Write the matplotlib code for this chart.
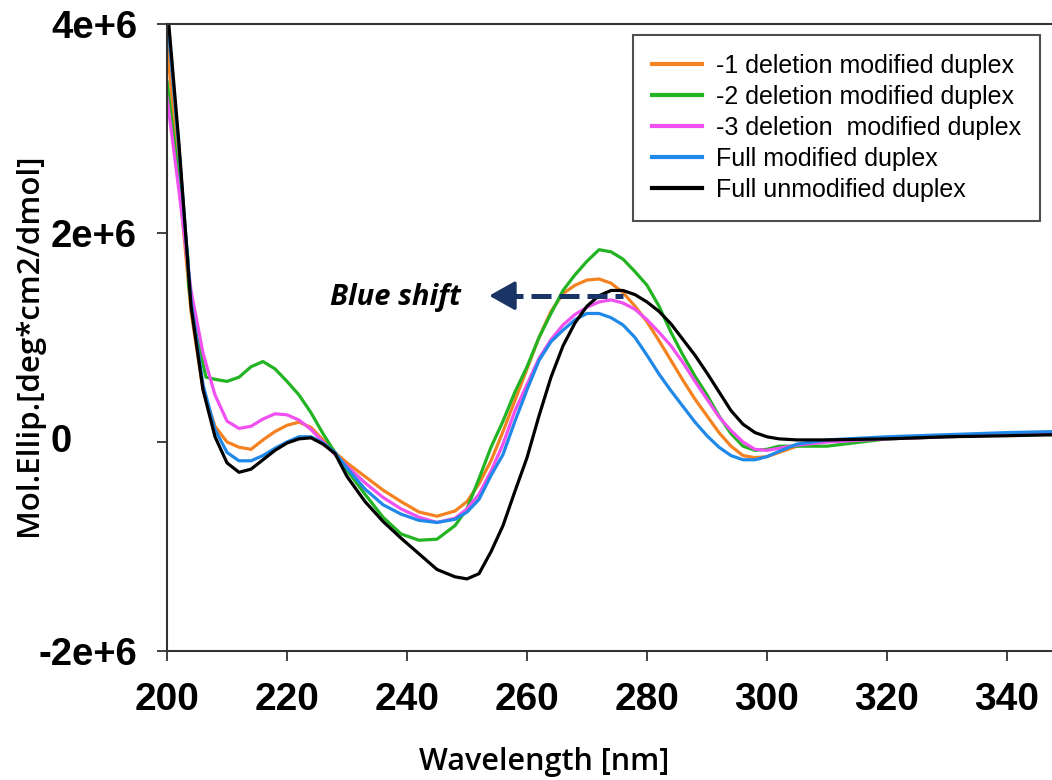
import matplotlib
matplotlib.use("Agg")
import matplotlib.pyplot as plt
from matplotlib.transforms import blended_transform_factory

# ---------------- data (units of 1e6 deg*cm2/dmol) ----------------
wl = [200, 202, 204, 206, 208, 210, 212, 214, 216, 218, 220, 222, 224, 226, 228,
      230, 233, 236, 239, 242, 245, 248, 250, 252, 254, 256, 258, 260, 262, 264,
      266, 268, 270, 272, 274, 276, 278, 280, 282, 284, 286, 288, 290, 292, 294,
      296, 298, 300, 302, 305, 310, 320, 330, 340, 348]

black = [4.2, 2.85, 1.3, 0.5, 0.05, -0.2, -0.29, -0.26, -0.17, -0.08, -0.01, 0.03, 0.04, -0.02, -0.11,
         -0.33, -0.57, -0.76, -0.92, -1.07, -1.22, -1.29, -1.31, -1.26, -1.05, -0.8, -0.47, -0.15, 0.25, 0.62,
         0.92, 1.14, 1.3, 1.4, 1.45, 1.45, 1.41, 1.34, 1.25, 1.13, 0.98, 0.83, 0.66, 0.48, 0.3,
         0.17, 0.09, 0.05, 0.03, 0.02, 0.02, 0.03, 0.05, 0.06, 0.07]

blue = [4.1, 2.8, 1.35, 0.55, 0.12, -0.1, -0.18, -0.18, -0.13, -0.06, 0.0, 0.05, 0.05, -0.01, -0.1,
        -0.25, -0.45, -0.6, -0.69, -0.75, -0.77, -0.74, -0.67, -0.55, -0.32, -0.12, 0.2, 0.5, 0.78, 0.96,
        1.07, 1.17, 1.23, 1.23, 1.19, 1.12, 1.0, 0.83, 0.65, 0.49, 0.34, 0.19, 0.06, -0.05, -0.13,
        -0.17, -0.17, -0.14, -0.09, -0.02, 0.02, 0.05, 0.07, 0.09, 0.1]

orange = [3.83, 2.5, 1.25, 0.5, 0.15, 0.0, -0.05, -0.07, 0.02, 0.1, 0.16, 0.19, 0.14, 0.02, -0.1,
          -0.2, -0.33, -0.46, -0.57, -0.67, -0.71, -0.66, -0.57, -0.4, -0.18, 0.1, 0.4, 0.7, 1.0, 1.25,
          1.42, 1.5, 1.55, 1.56, 1.52, 1.43, 1.3, 1.15, 0.97, 0.78, 0.59, 0.41, 0.25, 0.09, -0.04,
          -0.13, -0.15, -0.14, -0.1, -0.04, 0.01, 0.04, 0.06, 0.07, 0.08]

magenta = [3.3, 2.4, 1.45, 0.85, 0.45, 0.2, 0.13, 0.15, 0.22, 0.27, 0.26, 0.21, 0.12, 0.0, -0.12,
           -0.23, -0.39, -0.53, -0.64, -0.72, -0.77, -0.73, -0.64, -0.5, -0.28, -0.02, 0.3, 0.55, 0.8, 0.98,
           1.12, 1.22, 1.29, 1.34, 1.36, 1.33, 1.27, 1.17, 1.05, 0.92, 0.76, 0.58, 0.41, 0.24, 0.11,
           0.0, -0.07, -0.08, -0.06, -0.03, 0.0, 0.03, 0.05, 0.07, 0.08]

wl_green = [200, 202, 203.5, 203.6, 205, 206.5, 208, 210, 212, 214, 216, 218, 220, 222, 224, 226, 228,
            230, 233, 236, 239, 242, 245, 248, 250, 252, 254, 256, 258, 260, 262, 264,
            266, 268, 270, 272, 274, 276, 278, 280, 282, 284, 286, 288, 290, 292, 294,
            296, 298, 300, 302, 305, 310, 320, 330, 340, 348]
green = [3.45, 2.5, 1.75, 1.5, 1.0, 0.62, 0.6, 0.58, 0.62, 0.72, 0.77, 0.7, 0.58, 0.45, 0.28, 0.08, -0.1,
         -0.27, -0.5, -0.72, -0.88, -0.94, -0.93, -0.8, -0.64, -0.35, -0.05, 0.2, 0.48, 0.72, 1.0, 1.23,
         1.45, 1.6, 1.73, 1.84, 1.82, 1.75, 1.63, 1.5, 1.3, 1.05, 0.83, 0.63, 0.45, 0.25, 0.08,
         -0.04, -0.08, -0.07, -0.04, -0.04, -0.04, 0.03, 0.05, 0.07, 0.07]

labels = ["-1 deletion modified duplex", "-2 deletion modified duplex",
          "-3 deletion  modified duplex", "Full modified duplex", "Full unmodified duplex"]
colors = ["#F58220", "#22B422", "#F050F0", "#2088E8", "#000000"]

x_ticks = [200, 220, 240, 260, 280, 300, 320, 340]
y_ticks = [-2e6, 0, 2e6, 4e6]
y_ticklabels = ["-2e+6", "", "2e+6", "4e+6"]
zero_label = "0"

# ---------------- figure ----------------
fig = plt.figure(figsize=(10.52, 7.80), dpi=100)
ax = fig.add_axes([167 / 1052, 1 - 651 / 780, (1052 - 167) / 1052, (651 - 24) / 780])

scale = 1e6
series = [(wl, orange), (wl_green, green), (wl, magenta), (wl, blue), (wl, black)]
for (xs, ys), c, lab in zip(series, colors, labels):
    ax.plot(xs, [v * scale for v in ys], color=c, lw=2.3, label=lab, solid_joinstyle="round")

ax.set_xlim(200, 347.5)
ax.set_ylim(-2e6, 4e6)
ax.set_xticks(x_ticks)
ax.set_yticks(y_ticks)
ax.set_yticklabels(y_ticklabels)

for lbl in ax.get_xticklabels():
    lbl.set_fontfamily(["Liberation Sans"])
    lbl.set_fontweight("bold")
    lbl.set_fontsize(28)
for lbl in ax.get_yticklabels():
    lbl.set_fontfamily(["Liberation Sans"])
    lbl.set_fontweight("bold")
    lbl.set_fontsize(27.5)

ax.tick_params(axis="both", direction="out", length=7.2, width=1.3, color="#333333")
ax.tick_params(axis="x", pad=15)
ax.tick_params(axis="y", pad=14.4)
for side in ["left", "top", "bottom"]:
    ax.spines[side].set_color("#333333")
    ax.spines[side].set_linewidth(1.5)
ax.spines["right"].set_visible(False)

# "0" label sits at the left edge of the tick-label column in the reference
ytrans = blended_transform_factory(fig.transFigure, ax.transData)
fig.text(50 / 1052, 0, zero_label, transform=ytrans, ha="left", va="center",
         fontsize=27.5, fontweight="bold", family="Liberation Sans")

fig.text(29 / 1052, 1 - 345 / 780, "Mol.Ellip.[deg*cm2/dmol]", rotation=90,
         ha="center", va="center", fontsize=22.5, fontweight="semibold", family="Open Sans")
fig.text(544 / 1052, 1 - 770 / 780, "Wavelength [nm]", ha="center", va="baseline",
         fontsize=22, fontweight="semibold", family="Open Sans")

# Blue shift annotation
navy = "#1B3466"
ax.text(249.0, 1.38e6, "Blue shift", ha="right", va="center", fontsize=21,
        fontweight="bold", fontstyle="italic", family="Open Sans")
ax.plot([256.0, 276.0], [1.40e6, 1.40e6], color=navy, lw=3.6, ls=(0, (4.0, 1.6)))
ax.annotate("", xy=(253.7, 1.40e6), xytext=(257.5, 1.40e6),
            arrowprops=dict(arrowstyle="-|>,head_length=0.8,head_width=0.45",
                            mutation_scale=20, color=navy, lw=2.5,
                            shrinkA=0, shrinkB=0))

leg = ax.legend(loc="upper left", bbox_to_anchor=(0.527, 0.982), borderaxespad=0,
                prop={"family": "Liberation Sans", "size": 18}, frameon=True, fancybox=False,
                edgecolor="#222222", handlelength=2.0, handletextpad=0.55, labelspacing=0.28,
                borderpad=0.75)
leg.get_frame().set_linewidth(1.5)
for h in leg.get_lines():
    h.set_linewidth(3)

fig.savefig("out.png", dpi=100)
